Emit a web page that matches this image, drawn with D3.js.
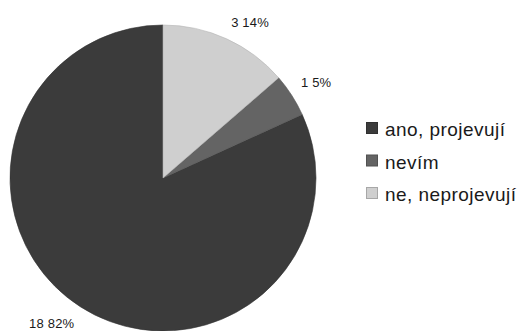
<!DOCTYPE html>
<html>
<head>
<meta charset="utf-8">
<script src="https://cdn.jsdelivr.net/npm/d3@7"></script>
<style>
  html, body { margin: 0; padding: 0; background: #fff; }
  svg { display: block; font-family: "Liberation Sans", Arial, sans-serif; }
</style>
</head>
<body>
<svg id="chart" width="518" height="331"></svg>
<script>
// Survey answers: counts and shares per category
const categories = ["ano, projevují", "nevím", "ne, neprojevují"];
const counts = [18, 1, 3];
const percentLabels = ["82%", "5%", "14%"];
const colors = ["#3b3b3b", "#646464", "#cfcfcf"];

const data = categories.map((c, i) => ({ category: c, count: counts[i], pct: percentLabels[i], color: colors[i] }));

const svg = d3.select("#chart");
const cx = 163, cy = 178, radius = 153;

// Slices run counter-clockwise from 12 o'clock
const pie = d3.pie().value(d => d.count).sort(null).startAngle(0).endAngle(-2 * Math.PI);
const arc = d3.arc().innerRadius(0).outerRadius(radius);
const arcs = pie(data);

const g = svg.append("g").attr("transform", `translate(${cx},${cy})`);

g.selectAll("path.slice")
  .data(arcs)
  .enter().append("path")
  .attr("class", "slice")
  .attr("d", arc)
  .attr("fill", d => d.data.color)
  .attr("stroke", d => d3.color(d.data.color).darker(0.4))
  .attr("stroke-width", 0.6);

// Value labels sit just outside the rim, anchored by the box corner nearest the pie
const labelR = radius + 11;
g.selectAll("text.value")
  .data(arcs)
  .enter().append("text")
  .attr("class", "value")
  .each(function (d) {
    const a = (d.startAngle + d.endAngle) / 2;
    const x = labelR * Math.sin(a);
    const y = -labelR * Math.cos(a);
    const upper = Math.cos(a) > 0;
    d3.select(this)
      .attr("x", x)
      .attr("y", upper ? y - 2 : y + 12)
      .attr("text-anchor", Math.sin(a) >= 0 ? "start" : "end");
  })
  .attr("font-size", 13)
  .attr("letter-spacing", 0.2)
  .attr("fill", "#1a1a1a")
  .text(d => `${d.data.count} ${d.data.pct}`);

// Legend
const legend = svg.append("g").attr("transform", "translate(366,122)");
const rows = legend.selectAll("g.row")
  .data(data)
  .enter().append("g")
  .attr("class", "row")
  .attr("transform", (d, i) => `translate(0,${i * 32.5})`);

rows.append("rect")
  .attr("x", 0.5).attr("y", 0.5)
  .attr("width", 11).attr("height", 11)
  .attr("fill", d => d.color)
  .attr("stroke", d => d3.color(d.color).darker(0.6))
  .attr("stroke-width", 1);

rows.append("text")
  .attr("x", 19)
  .attr("y", 14)
  .attr("font-size", 19)
  .attr("letter-spacing", 0.45)
  .attr("fill", "#1a1a1a")
  .text(d => d.category);
</script>
</body>
</html>
